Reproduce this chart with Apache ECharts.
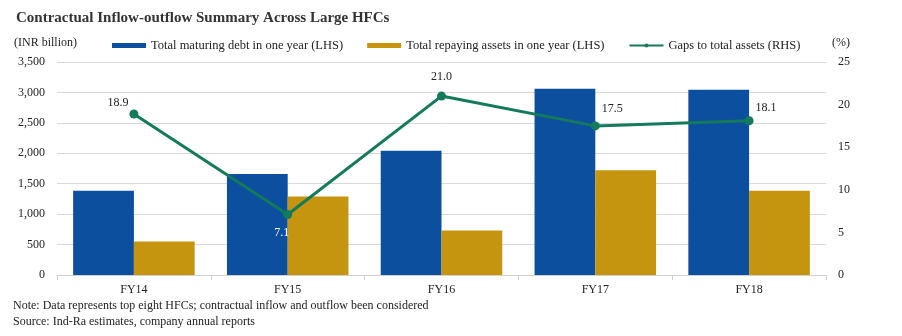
<!DOCTYPE html>
<html><head><meta charset="utf-8">
<script src="https://cdn.jsdelivr.net/npm/echarts@6/dist/echarts.min.js"></script>
<style>html,body{margin:0;padding:0;background:#fff}#c{width:902px;height:336px}</style>
</head><body><div id="c"></div>
<script>
const categories = ['FY14','FY15','FY16','FY17','FY18'];
const maturingDebt = [1385, 1660, 2040, 3060, 3045];
const repayingAssets = [550, 1290, 730, 1720, 1385];
const gapsPct = [18.9, 7.1, 21.0, 17.5, 18.1];
const leftTicks = {min: 0, max: 3500, interval: 500};
const rightTicks = {min: 0, max: 25, interval: 5};

const FONT = '"Liberation Serif", "DejaVu Serif", serif';
const TXT = '#222';
const labelPos = [
  {position: 'top', offset: [-16, 4]},
  {position: 'bottom', offset: [-6, 3], color: '#fff'},
  {position: 'top', offset: [0, -4]},
  {position: 'top', offset: [17, -2]},
  {position: 'top', offset: [17, 3]}
];
const chart = echarts.init(document.getElementById('c'), null, {renderer: 'canvas'});
chart.setOption({
  animation: false,
  backgroundColor: '#fff',
  textStyle: {fontFamily: FONT},
  title: {
    text: 'Contractual Inflow-outflow Summary Across Large HFCs',
    left: 11, top: 6,
    textStyle: {fontFamily: FONT, fontWeight: 'bold', fontSize: 15, color: '#333'}
  },
  graphic: [
    {type: 'text', left: 14, top: 37, style: {text: '(INR billion)', font: '12px ' + FONT, fill: TXT}},
    {type: 'text', left: 832, top: 37, style: {text: '(%)', font: '12px ' + FONT, fill: TXT}},
    {type: 'text', left: 13, top: 300, style: {text: 'Note: Data represents top eight HFCs; contractual inflow and outflow been considered', font: '12px ' + FONT, fill: TXT}},
    {type: 'text', left: 13, top: 316, style: {text: 'Source: Ind-Ra estimates, company annual reports', font: '12px ' + FONT, fill: TXT}}
  ],
  legend: {
    left: 107, top: 34,
    itemWidth: 34, itemHeight: 5, itemGap: 24,
    textStyle: {fontFamily: FONT, fontSize: 12.5, color: TXT},
    data: [
      {name: 'Total maturing debt in one year (LHS)', icon: 'rect'},
      {name: 'Total repaying assets in one year (LHS)', icon: 'rect'},
      {name: 'Gaps to total assets (RHS)'}
    ]
  },
  grid: {left: 57, right: 76, top: 62, bottom: 61},
  xAxis: {
    type: 'category', data: categories,
    axisLine: {lineStyle: {color: '#d0d0d0'}},
    axisTick: {show: true, length: 5, lineStyle: {color: '#d0d0d0'}},
    axisLabel: {fontFamily: FONT, fontSize: 12, color: TXT, margin: 9}
  },
  yAxis: [
    {type: 'value', min: leftTicks.min, max: leftTicks.max, interval: leftTicks.interval,
     axisLabel: {fontFamily: FONT, fontSize: 12, color: TXT, margin: 12,
       formatter: v => v.toLocaleString('en-US')},
     axisLine: {show: false}, axisTick: {show: false},
     splitLine: {lineStyle: {color: '#d9d9d9', width: 1}}},
    {type: 'value', min: rightTicks.min, max: rightTicks.max, interval: rightTicks.interval,
     position: 'right',
     axisLabel: {fontFamily: FONT, fontSize: 12, color: TXT, margin: 12},
     axisLine: {show: false}, axisTick: {show: false}, splitLine: {show: false}}
  ],
  series: [
    {name: 'Total maturing debt in one year (LHS)', type: 'bar', data: maturingDebt,
     itemStyle: {color: '#0b4f9e'}, barGap: '0%', barCategoryGap: '21%'},
    {name: 'Total repaying assets in one year (LHS)', type: 'bar', data: repayingAssets,
     itemStyle: {color: '#c6950f'}},
    {name: 'Gaps to total assets (RHS)', type: 'line', yAxisIndex: 1,
     data: gapsPct.map((v, i) => ({value: v, label: labelPos[i]})),
     symbol: 'circle', symbolSize: 9,
     lineStyle: {color: '#137a5c', width: 3}, itemStyle: {color: '#137a5c'},
     label: {show: true, fontFamily: FONT, fontSize: 12, color: TXT,
       formatter: p => p.value.toFixed(1)}}
  ]
});
</script></body></html>
